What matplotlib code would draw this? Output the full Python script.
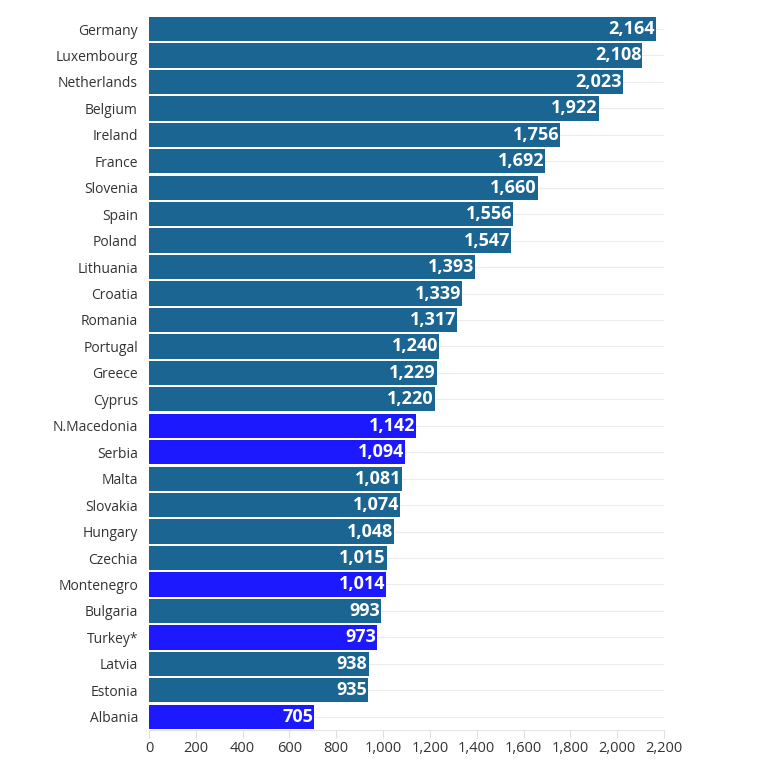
import matplotlib.pyplot as plt

countries = ["Germany", "Luxembourg", "Netherlands", "Belgium", "Ireland",
             "France", "Slovenia", "Spain", "Poland", "Lithuania", "Croatia",
             "Romania", "Portugal", "Greece", "Cyprus", "N.Macedonia",
             "Serbia", "Malta", "Slovakia", "Hungary", "Czechia",
             "Montenegro", "Bulgaria", "Turkey*", "Latvia", "Estonia",
             "Albania"]
values = [2164, 2108, 2023, 1922, 1756, 1692, 1660, 1556, 1547, 1393, 1339,
          1317, 1240, 1229, 1220, 1142, 1094, 1081, 1074, 1048, 1015, 1014,
          993, 973, 938, 935, 705]
highlight = ["N.Macedonia", "Serbia", "Montenegro", "Turkey*", "Albania"]
xticks = [0, 200, 400, 600, 800, 1000, 1200, 1400, 1600, 1800, 2000, 2200]

EU_COLOR = "#1b6592"
HL_COLOR = "#1c18ff"

plt.rcParams["font.family"] = ["Open Sans", "DejaVu Sans"]

fig = plt.figure(figsize=(7.66, 7.63), dpi=100)
ax = fig.add_axes([0.1945, 0.0433, 0.8668 - 0.1945, 0.9793 - 0.0433])

pos = list(range(len(countries)))
colors = [HL_COLOR if c in highlight else EU_COLOR for c in countries]
bars = ax.barh(pos, values, height=0.92, color=colors, zorder=2)

for b, v in zip(bars, values):
    ax.text(b.get_width() - 4, b.get_y() + b.get_height() / 2, f"{v:,}",
            ha="right", va="center", color="white", fontsize=13,
            fontweight="bold", zorder=3)

ax.set_ylim(len(countries) - 0.5, -0.5)
ax.set_xlim(0, 2200)
ax.set_yticks(pos)
ax.set_yticklabels(countries, fontsize=10, color="#333333")
ax.set_xticks(xticks)
ax.set_xticklabels([f"{t:,}" for t in xticks], fontsize=10.5, color="#333333")

ax.grid(axis="y", color="#ececec", linewidth=0.8, zorder=0)
for s in ["top", "right", "left"]:
    ax.spines[s].set_visible(False)
ax.spines["bottom"].set_color("#e6e6e6")
ax.spines["bottom"].set_linewidth(0.8)
ax.tick_params(axis="y", length=0, pad=8)
ax.tick_params(axis="x", length=6, color="#e0e0e0", width=0.8, pad=2)

fig.savefig("out.png", dpi=100)
